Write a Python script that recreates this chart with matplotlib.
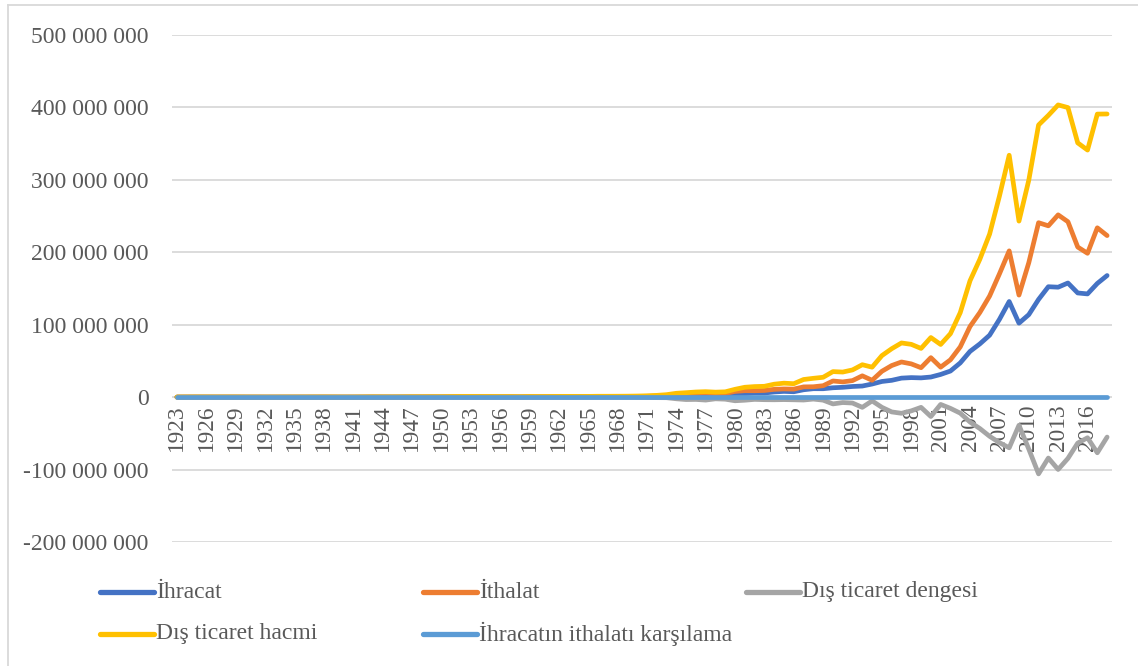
import matplotlib
matplotlib.use("Agg")
import matplotlib.pyplot as plt
from matplotlib.lines import Line2D
from matplotlib.ticker import FuncFormatter, MultipleLocator

years = list(range(1923, 2019))

# values in billion USD (axis unit: thousand USD)
ihracat = [0.051, 0.083, 0.103, 0.096, 0.081, 0.089, 0.085, 0.072, 0.060, 0.048,
           0.058, 0.073, 0.076, 0.094, 0.109, 0.115, 0.099, 0.081, 0.091, 0.127,
           0.197, 0.178, 0.168, 0.215, 0.223, 0.197, 0.248, 0.263, 0.314, 0.363,
           0.396, 0.335, 0.313, 0.305, 0.345, 0.247, 0.354, 0.321, 0.347, 0.381,
           0.368, 0.411, 0.464, 0.490, 0.523, 0.496, 0.537, 0.588, 0.677, 0.885,
           1.317, 1.532, 1.401, 1.960, 1.753, 2.288, 2.261, 2.910, 4.703, 5.746,
           5.728, 7.134, 7.958, 7.457, 10.190, 11.662, 11.625, 12.959, 13.593, 14.715,
           15.345, 18.106, 21.637, 23.225, 26.261, 26.974, 26.587, 27.775, 31.334, 36.059,
           47.253, 63.167, 73.476, 85.535, 107.272, 132.027, 102.143, 113.883, 134.907, 152.462,
           151.803, 157.610, 143.839, 142.530, 156.993, 167.921]

ithalat = [0.087, 0.101, 0.129, 0.121, 0.107, 0.114, 0.124, 0.070, 0.063, 0.043,
           0.045, 0.068, 0.071, 0.064, 0.091, 0.119, 0.092, 0.050, 0.055, 0.113,
           0.155, 0.126, 0.097, 0.119, 0.245, 0.275, 0.290, 0.286, 0.402, 0.556,
           0.533, 0.478, 0.498, 0.407, 0.397, 0.315, 0.470, 0.468, 0.510, 0.620,
           0.688, 0.537, 0.572, 0.718, 0.685, 0.764, 0.801, 0.948, 1.171, 1.563,
           2.086, 3.778, 4.739, 5.129, 5.796, 4.599, 5.069, 7.909, 8.933, 8.843,
           9.235, 10.757, 11.343, 11.105, 14.158, 14.335, 15.792, 22.302, 21.047, 22.871,
           29.428, 23.270, 35.709, 43.627, 48.559, 45.921, 40.671, 54.503, 41.399, 51.554,
           69.340, 97.540, 116.774, 139.576, 170.063, 201.964, 140.928, 185.544, 240.842, 236.545,
           251.661, 242.177, 207.234, 198.618, 233.800, 223.047]

denge = [-0.036, -0.018, -0.026, -0.025, -0.026, -0.025, -0.039, 0.002, -0.003, 0.005,
         0.013, 0.005, 0.005, 0.030, 0.018, -0.004, 0.007, 0.031, 0.036, 0.014,
         0.042, 0.052, 0.071, 0.096, -0.022, -0.078, -0.042, -0.023, -0.088, -0.193,
         -0.137, -0.143, -0.185, -0.102, -0.052, -0.068, -0.116, -0.147, -0.163, -0.239,
         -0.320, -0.126, -0.108, -0.228, -0.162, -0.268, -0.264, -0.360, -0.494, -0.678,
         -0.769, -2.246, -3.338, -3.169, -4.043, -2.311, -2.808, -4.999, -4.230, -3.097,
         -3.507, -3.623, -3.385, -3.648, -3.968, -2.673, -4.167, -9.343, -7.454, -8.156,
         -14.083, -5.164, -14.072, -20.402, -22.298, -18.947, -14.084, -26.728, -10.065, -15.495,
         -22.087, -34.373, -43.298, -54.041, -62.791, -69.937, -38.785, -71.661, -105.935, -84.083,
         -99.858, -84.567, -63.395, -56.088, -76.807, -55.126]

hacim = [0.138, 0.184, 0.232, 0.217, 0.188, 0.203, 0.209, 0.142, 0.123, 0.091,
         0.103, 0.141, 0.147, 0.158, 0.200, 0.234, 0.191, 0.131, 0.146, 0.240,
         0.352, 0.304, 0.265, 0.334, 0.468, 0.472, 0.538, 0.549, 0.716, 0.919,
         0.929, 0.813, 0.811, 0.712, 0.742, 0.562, 0.824, 0.789, 0.857, 1.001,
         1.056, 0.948, 1.036, 1.208, 1.208, 1.260, 1.338, 1.536, 1.848, 2.448,
         3.403, 5.310, 6.140, 7.089, 7.549, 6.887, 7.330, 10.819, 13.636, 14.589,
         14.963, 17.891, 19.301, 18.562, 24.348, 25.997, 27.417, 35.261, 34.640, 37.586,
         44.773, 41.376, 57.346, 66.852, 74.820, 72.895, 67.258, 82.278, 72.733, 87.613,
         116.593, 160.707, 190.250, 225.111, 277.335, 333.991, 243.071, 299.427, 375.749, 389.007,
         403.464, 399.787, 351.073, 341.148, 390.793, 390.968]

# coverage ratio in percent (plotted as-is)
karsilama = [58.6, 82.2, 79.8, 79.3, 75.7, 78.1, 68.5, 102.9, 95.2, 111.6,
             128.9, 107.4, 107.0, 146.9, 119.8, 96.6, 107.6, 162.0, 165.5, 112.4,
             127.1, 141.3, 173.2, 180.7, 91.0, 71.6, 85.5, 92.0, 78.1, 65.3,
             74.3, 70.1, 62.9, 74.9, 86.9, 78.4, 75.3, 68.6, 68.0, 61.5,
             53.5, 76.5, 81.1, 68.2, 76.4, 64.9, 67.0, 62.0, 57.8, 56.6,
             63.1, 40.6, 29.6, 38.2, 30.2, 49.8, 44.6, 36.8, 52.6, 65.0,
             62.0, 66.3, 70.2, 67.1, 72.0, 81.4, 73.6, 58.1, 64.6, 64.3,
             52.1, 77.8, 60.6, 53.2, 54.1, 58.7, 65.4, 51.0, 75.7, 69.9,
             68.1, 64.8, 62.9, 61.3, 63.1, 65.4, 72.5, 61.4, 56.0, 64.5,
             60.3, 65.1, 69.4, 71.8, 67.1, 75.3]

series_names = ["İhracat", "İthalat", "Dış ticaret dengesi", "Dış ticaret hacmi",
                "İhracatın ithalatı karşılama"]
colors = ["#4472C4", "#ED7D31", "#A5A5A5", "#FFC000", "#5B9BD5"]
UNIT = 1e6  # billion USD -> thousand USD

plt.rcParams['font.family'] = ['Liberation Serif', 'DejaVu Serif']

W, H = 1138, 666
fig = plt.figure(figsize=(W / 100, H / 100), dpi=100)
x0, x1, y0, y1 = 172, 1112, 35, 542
ax = fig.add_axes([x0 / W, 1 - y1 / H, (x1 - x0) / W, (y1 - y0) / H])

idx = list(range(len(years)))
data = [[v * UNIT for v in ihracat], [v * UNIT for v in ithalat],
        [v * UNIT for v in denge], [v * UNIT for v in hacim], karsilama]
for i, (vals, c) in enumerate(zip(data, colors)):
    ax.plot(idx, vals, color=c, lw=3.4, solid_capstyle='round',
            solid_joinstyle='round', zorder=3 + i)

ax.set_xlim(-0.5, len(years) - 0.5)
ax.set_ylim(-200e6, 500e6)
ax.yaxis.set_major_locator(MultipleLocator(100e6))
ax.yaxis.set_major_formatter(FuncFormatter(
    lambda v, p: f"{int(round(v)):,}".replace(",", " ")))
ax.grid(axis='y', color='#D9D9D9', lw=1.3, zorder=1)
for s in ax.spines.values():
    s.set_visible(False)
ax.tick_params(axis='y', length=0, pad=17, labelsize=17, labelcolor='#595959')

# x labels placed at the zero line (category axis crossing at 0)
ax.spines['bottom'].set_position(('data', 0))
ax.set_xticks(idx[::3])
ax.set_xticklabels([str(y) for y in years[::3]], rotation=90, va='top',
                   ha='center')
ax.tick_params(axis='x', length=0, pad=5, labelsize=16.8, labelcolor='#595959')

# chart border (top and left visible)
fig.add_artist(Line2D([8 / W, 8 / W], [0, 1 - 5 / H], color='#D9D9D9', lw=1.3))
fig.add_artist(Line2D([8 / W, 1], [1 - 5 / H, 1 - 5 / H], color='#D9D9D9', lw=1.3))

# legend
leg_pos = [(100, 592), (423, 592), (746, 592), (100, 634), (423, 634)]
for (lx, ly), name, c in zip(leg_pos, series_names, colors):
    fig.add_artist(Line2D([lx / W, (lx + 54) / W], [1 - ly / H, 1 - ly / H],
                          color=c, lw=3.8, solid_capstyle='round'))
    fig.text((lx + 56) / W, 1 - ly / H, name, fontsize=17, color='#595959',
             va='center', ha='left')

fig.savefig("out.png", dpi=100)
